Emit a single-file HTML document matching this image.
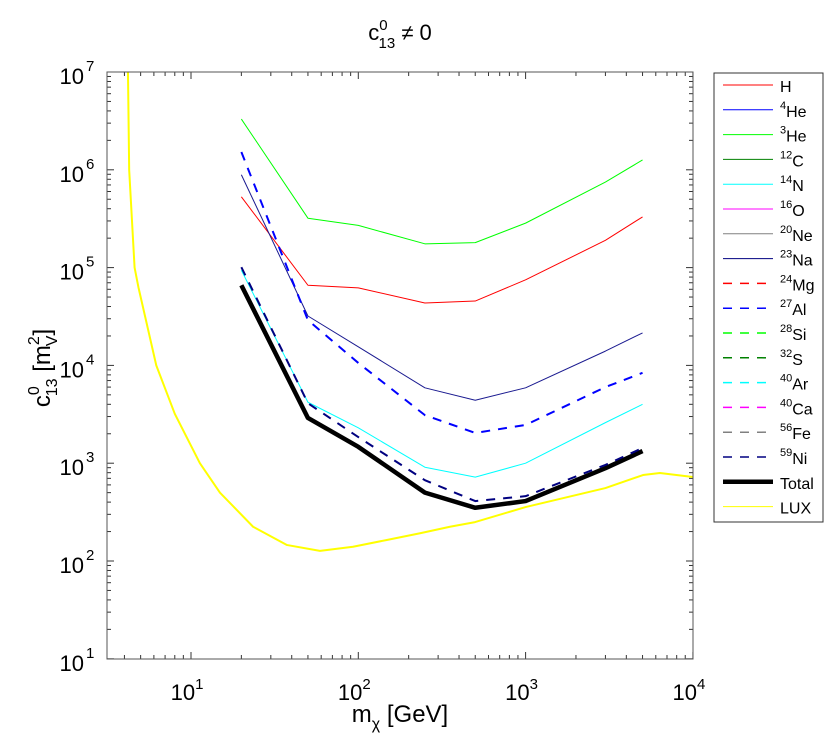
<!DOCTYPE html>
<html><head><meta charset="utf-8"><style>
html,body{margin:0;padding:0;background:#fff;}
svg{display:block;font-family:"Liberation Sans",sans-serif;}
</style></head><body>
<svg id="chart" width="830" height="742" viewBox="0 0 830 742">
<rect x="0" y="0" width="830" height="742" fill="#fff"/>
<text x="400" y="40" text-anchor="middle" font-size="22">c<tspan font-size="15" dy="-10">0</tspan><tspan font-size="15" dx="-9" dy="18">13</tspan><tspan dy="-8"> ≠ 0</tspan></text>
<text x="400" y="722" text-anchor="middle" font-size="24">m<tspan font-size="16" dy="7">χ</tspan><tspan dy="-7"> [GeV]</tspan></text>
<text transform="translate(50,368) rotate(-90)" text-anchor="middle" font-size="24">c<tspan font-size="16" dy="-11">0</tspan><tspan font-size="16" dx="-10" dy="18">13</tspan><tspan dy="-7"> [m</tspan><tspan font-size="16" dy="-11">2</tspan><tspan font-size="16" dx="-10" dy="18">V</tspan><tspan dy="-7">]</tspan></text>
<g id="axes"></g>
<g id="series"></g>
<rect x="107" y="72" width="586" height="587" fill="none" stroke="#555" stroke-width="1"/>
<g id="legend"></g>
</svg>
<script>
const massPoints = [20, 50, 100, 250, 500, 1000, 3000, 5000];
const hVals   = [5.3e5, 6.6e4, 6.2e4, 4.35e4, 4.55e4, 7.5e4, 1.9e5, 3.3e5];
const he3Vals = [3.3e6, 3.2e5, 2.7e5, 1.75e5, 1.8e5, 2.85e5, 7.5e5, 1.26e6];
const he4Vals = [8.9e5, 3.2e4, 1.55e4, 5.9e3, 4.4e3, 5.9e3, 1.4e4, 2.15e4];
const alVals  = [1.52e6, 2.9e4, 1.06e4, 3.1e3, 2.04e3, 2.46e3, 6.0e3, 8.4e3];
const arVals  = [9.4e4, 4.2e3, 2.3e3, 9.1e2, 7.2e2, 1.0e3, 2.6e3, 4.0e3];
const niVals  = [1.01e5, 4.1e3, 1.85e3, 6.7e2, 4.1e2, 4.6e2, 9.6e2, 1.43e3];
const totalVals = [6.6e4, 2.9e3, 1.47e3, 5.0e2, 3.5e2, 4.1e2, 8.9e2, 1.33e3];
const luxMass = [4.2, 4.27, 4.6, 4.85, 6.2, 8.0, 11.3, 14.9, 23.5, 37.3, 59, 93, 148, 234, 353, 499, 1000, 3000, 5035, 6350, 10000];
const luxVals = [1e7, 1e6, 1e5, 6.3e4, 1e4, 3.2e3, 1e3, 5.0e2, 2.24e2, 1.46e2, 1.27e2, 1.40e2, 1.64e2, 1.92e2, 2.24e2, 2.5e2, 3.56e2, 5.57e2, 7.57e2, 7.94e2, 7.23e2];
const xTickExps = [1, 2, 3, 4];
const yTickExps = [1, 2, 3, 4, 5, 6, 7];
const legendLabels = [["","H"],["4","He"],["3","He"],["12","C"],["14","N"],["16","O"],["20","Ne"],["23","Na"],["24","Mg"],["27","Al"],["28","Si"],["32","S"],["40","Ar"],["40","Ca"],["56","Fe"],["59","Ni"],["","Total"],["","LUX"]];
const legendColors = ["#ff0000","#0000ff","#00ff00","#008000","#00ffff","#ff00ff","#808080","#000080","#ff0000","#0000ff","#00ff00","#008000","#00ffff","#ff00ff","#808080","#000080","#000000","#ffff00"];
const legendDash = [0,0,0,0,0,0,0,0,1,1,1,1,1,1,1,1,0,0];

const NS = "http://www.w3.org/2000/svg";
const X0 = 107, X1 = 693, Y0 = 72, Y1 = 659;
function xs(v){ return 191 + (Math.log10(v) - 1) * 167.3; }
function ys(v){ return 72 + (7 - Math.log10(v)) * 97.8; }
function mk(tag, attrs, parent){ const e = document.createElementNS(NS, tag); for (const k in attrs) e.setAttribute(k, attrs[k]); parent.appendChild(e); return e; }

const axes = document.getElementById('axes');
// x ticks
for (let e = 0; e <= 4; e++) {
  for (let m = 1; m <= 9; m++) {
    const v = m * Math.pow(10, e);
    const x = xs(v);
    if (x < X0 - 0.5 || x > X1 + 0.5) continue;
    const len = m === 1 ? 7 : 4;
    const t1 = mk('line', {x1:x, y1:Y1, x2:x, y2:Y1-len, stroke:'#333', 'stroke-width':1}, axes);
    
    
    const t2 = mk('line', {x1:x, y1:Y0, x2:x, y2:Y0+len, stroke:'#333', 'stroke-width':1}, axes);
    
    
  }
}
xTickExps.forEach(k => {
  const t = mk('text', {x: xs(Math.pow(10,k)) - 4, y: 700, 'text-anchor':'middle', 'font-size':22}, axes);
  t.innerHTML = '10<tspan font-size="15" dy="-11">' + k + '</tspan>';
  
  
});
// y ticks
for (let e = 1; e <= 7; e++) {
  for (let m = 1; m <= 9; m++) {
    const v = m * Math.pow(10, e);
    const y = ys(v);
    if (y < Y0 - 0.5 || y > Y1 + 0.5) continue;
    const len = m === 1 ? 7 : 4;
    const t1 = mk('line', {x1:X0, y1:y, x2:X0+len, y2:y, stroke:'#333', 'stroke-width':1}, axes);
    
    
    const t2 = mk('line', {x1:X1, y1:y, x2:X1-len, y2:y, stroke:'#333', 'stroke-width':1}, axes);
    
    
  }
}
yTickExps.forEach(k => {
  const t = mk('text', {x: 84, y: ys(Math.pow(10,k)) + 12, 'text-anchor':'end', 'font-size':22}, axes);
  t.innerHTML = '10';
  
  
  const s = mk('text', {x: 86, y: ys(Math.pow(10,k)) - 1, 'font-size':15}, axes);
  s.textContent = String(k);
  
  
});

const series = document.getElementById('series');
function drawLine(xsArr, vals, color, width, dash, name){
  const pts = xsArr.map((m,i) => xs(m).toFixed(2) + ',' + ys(vals[i]).toFixed(2)).join(' ');
  const p = mk('polyline', {points: pts, fill:'none', stroke:color, 'stroke-width':width, 'stroke-linejoin':'round'}, series);
  if (dash) p.setAttribute('stroke-dasharray', dash);
  
  
}
drawLine(luxMass, luxVals, '#ffff00', 2, null, 'lux-line');
drawLine(massPoints, he3Vals, '#00ff00', 1, null, 'he3-line');
drawLine(massPoints, hVals, '#ff0000', 1, null, 'h-line');
drawLine(massPoints, he4Vals, '#1a1a90', 1, null, 'he4-line');
drawLine(massPoints, alVals, '#0000ff', 2, '9,8', 'al-line');
drawLine(massPoints, arVals, '#00ffff', 1, null, 'ar-line');
drawLine(massPoints, totalVals, '#000000', 4.5, null, 'total-line');
drawLine(massPoints, niVals, '#000080', 2, '9,8', 'ni-line');

const legend = document.getElementById('legend');
const lb = mk('rect', {x:714, y:73, width:109, height:449, fill:'#fff', stroke:'#333', 'stroke-width':1}, legend);


legendLabels.forEach((lab, i) => {
  const y = 85 + i * 24.8;
  const isTotal = lab[1] === 'Total';
  const l = mk('line', {x1:723, y1:y, x2:773, y2:y, stroke:legendColors[i], 'stroke-width': isTotal ? 4.5 : (legendDash[i] ? 1.5 : 1)}, legend);
  if (legendDash[i]) l.setAttribute('stroke-dasharray', '9,8');
  
  
  const t = mk('text', {x:780, y:y+7, 'font-size':16}, legend);
  t.innerHTML = lab[0] ? '<tspan font-size="11" dy="-8">' + lab[0] + '</tspan><tspan dy="8">' + lab[1] + '</tspan>' : lab[1];
  
  
});
</script>
</body></html>
